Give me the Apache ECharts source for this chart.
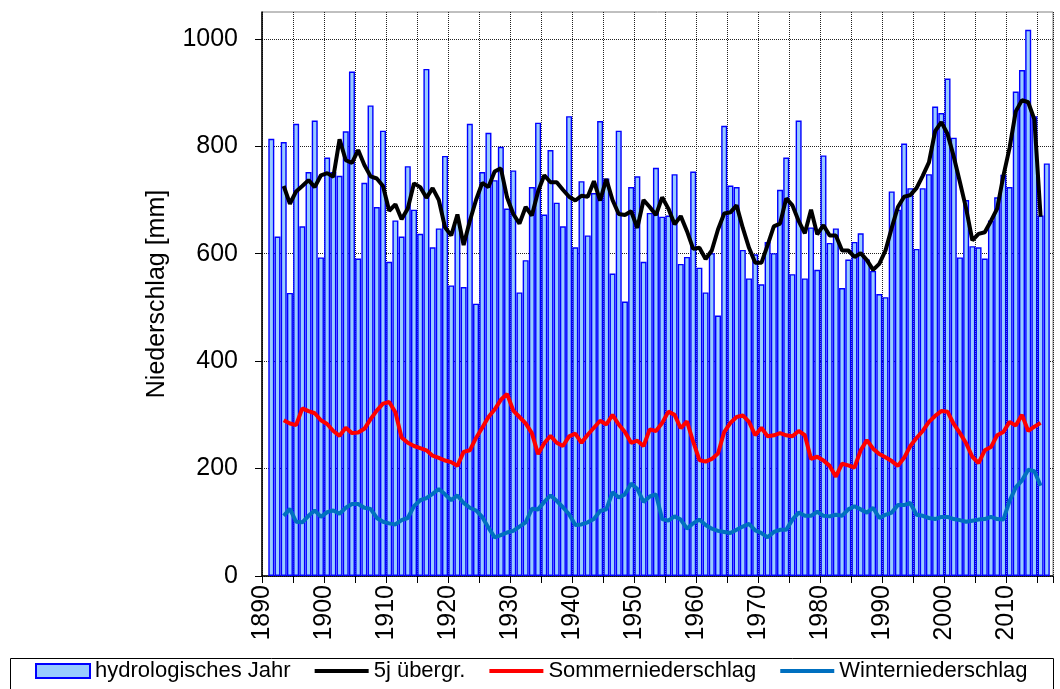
<!DOCTYPE html>
<html>
<head>
<meta charset="utf-8">
<title>Niederschlag</title>
<script src="https://cdn.jsdelivr.net/npm/echarts@6/dist/echarts.min.js"></script>
<style>
  html, body { margin: 0; padding: 0; background: #fff; }
  #chart { width: 1060px; height: 689px; }
</style>
</head>
<body>
<div id="chart"></div>
<script>
// hydrologisches Jahr, ab 1891
const jahrBeginn = 1891
const hydroJahr = [
  814, 632, 808, 527, 842, 651, 752, 848, 593, 779,
  752, 745, 828, 939, 591, 732, 876, 687, 829, 585,
  662, 632, 763, 682, 637, 944, 612, 647, 782, 541,
  660, 538, 842, 507, 752, 825, 737, 799, 684, 755,
  528, 588, 724, 844, 673, 793, 695, 651, 856, 612,
  735, 634, 713, 847, 740, 563, 829, 511, 724, 744,
  585, 676, 760, 669, 671, 748, 581, 594, 753, 574,
  528, 601, 485, 838, 727, 724, 607, 554, 599, 543,
  622, 601, 719, 779, 562, 848, 554, 649, 570, 783,
  620, 647, 536, 589, 622, 638, 589, 568, 525, 519,
  716, 682, 805, 722, 609, 722, 748, 874, 862, 926,
  816, 593, 700, 614, 612, 591, 662, 705, 747, 724,
  902, 942, 1017, 856, 671, 768
]

// Linien, ab 1893 bis 2015
const linienBeginn = 1893
const uebergr5j = [
  726, 693, 716, 726, 737, 724, 746, 750, 743, 813,
  774, 769, 793, 765, 744, 740, 726, 680, 692, 664,
  684, 731, 724, 704, 722, 700, 649, 634, 673, 616,
  661, 700, 732, 724, 753, 759, 705, 674, 656, 687,
  671, 716, 746, 733, 733, 719, 706, 699, 708, 706,
  735, 699, 739, 700, 674, 672, 679, 648, 700, 687,
  672, 705, 684, 655, 670, 642, 609, 611, 590, 606,
  645, 675, 677, 690, 648, 611, 583, 583, 616, 651,
  656, 703, 690, 661, 638, 682, 636, 653, 634, 634,
  606, 606, 594, 601, 588, 570, 581, 606, 648, 687,
  706, 709, 722, 745, 770, 828, 845, 823, 781, 733,
  684, 625, 637, 640, 661, 684, 745, 797, 865, 886,
  882, 850, 669
]
const sommer = [
  290, 284, 281, 312, 307, 303, 290, 283, 270, 261,
  276, 266, 267, 274, 292, 308, 321, 324, 305, 258,
  248, 242, 238, 234, 224, 220, 215, 212, 205, 231,
  234, 257, 276, 296, 310, 328, 339, 308, 296, 284,
  266, 227, 247, 261, 248, 242, 260, 265, 248, 263,
  276, 289, 282, 300, 282, 268, 248, 252, 242, 273,
  270, 285, 306, 300, 275, 288, 250, 216, 213, 218,
  228, 268, 285, 296, 299, 287, 262, 276, 260, 262,
  266, 262, 260, 270, 262, 218, 222, 215, 205, 185,
  209, 206, 202, 234, 253, 237, 227, 221, 214, 205,
  220, 242, 257, 270, 287, 298, 307, 306, 283, 266,
  247, 222, 210, 234, 240, 262, 268, 287, 280, 300,
  270, 278, 285
]
const winter = [
  112, 125, 101, 100, 112, 122, 110, 119, 122, 116,
  127, 134, 134, 127, 125, 108, 101, 98, 96, 104,
  108, 130, 141, 145, 153, 162, 152, 141, 150, 136,
  127, 122, 110, 90, 72, 76, 81, 84, 92, 100,
  125, 124, 138, 150, 140, 128, 115, 95, 96, 100,
  106, 121, 124, 156, 146, 152, 172, 162, 138, 148,
  152, 106, 103, 111, 105, 88, 98, 105, 95, 88,
  84, 82, 80, 86, 92, 97, 85, 80, 72, 82,
  86, 86, 105, 118, 112, 112, 120, 112, 111, 114,
  112, 124, 130, 124, 118, 127, 108, 114, 118, 132,
  132, 136, 114, 112, 108, 106, 110, 110, 106, 104,
  101, 103, 105, 106, 110, 106, 105, 140, 165, 178,
  198, 195, 168
]
const yTicks = [0, 200, 400, 600, 800, 1000]

const font = "'Liberation Sans', Arial, sans-serif"
// Balken/Punkte in der Mitte des Jahres
const toPoints = (start, arr) => arr.map((v, i) => [start + i + 0.5, v])

const chart = echarts.init(document.getElementById('chart'))
chart.setOption({
  animation: false,
  textStyle: { fontFamily: font },
  grid: {
    left: 262,
    right: 7,
    top: 12,
    bottom: 113,
    show: true,
    borderColor: '#808080',
    borderWidth: 1
  },
  legend: {
    left: 35,
    top: 660,
    padding: 0,
    itemWidth: 54,
    itemHeight: 14,
    itemGap: 22,
    lineStyle: { width: 4 },
    textStyle: { fontSize: 22, color: '#000', fontFamily: font },
    data: [
      { name: 'hydrologisches Jahr', icon: 'rect' },
      { name: '5j übergr.', itemStyle: { opacity: 0 } },
      { name: 'Sommerniederschlag', itemStyle: { opacity: 0 } },
      { name: 'Winterniederschlag', itemStyle: { opacity: 0 } }
    ]
  },
  graphic: [{
    type: 'rect',
    left: 8,
    top: 656,
    shape: { width: 1043, height: 32 },
    style: { fill: 'none', stroke: '#000', lineWidth: 1 }
  }],
  xAxis: {
    type: 'value',
    min: 1890,
    max: 2017.5,
    interval: 5,
    axisLine: { lineStyle: { color: '#000', width: 1.5 } },
    axisTick: { length: 7, lineStyle: { color: '#000', width: 1 } },
    axisLabel: {
      rotate: 90,
      margin: 9,
      fontSize: 25,
      color: '#000',
      fontFamily: font,
      formatter: v => (v % 10 === 0 ? String(v) : '')
    },
    splitLine: { show: true, lineStyle: { color: '#222', type: 'dotted', width: 1 } }
  },
  yAxis: {
    type: 'value',
    min: 0,
    max: 1050,
    interval: 200,
    name: 'Niederschlag [mm]',
    nameLocation: 'middle',
    nameRotate: 90,
    nameGap: 92,
    nameTextStyle: { fontSize: 25, color: '#000', fontFamily: font },
    axisLine: { show: true, lineStyle: { color: '#000', width: 1.5 } },
    axisTick: { show: true, length: 7, customValues: yTicks, lineStyle: { color: '#000' } },
    axisLabel: {
      margin: 24,
      fontSize: 25,
      color: '#000',
      fontFamily: font,
      customValues: yTicks,
      formatter: v => String(v)
    },
    splitLine: { show: true, lineStyle: { color: '#222', type: 'dotted', width: 1 } }
  },
  series: [
    {
      name: 'hydrologisches Jahr',
      type: 'bar',
      barWidth: 6,
      itemStyle: { color: '#99ccff', borderColor: '#0000ff', borderWidth: 1.4 },
      data: toPoints(jahrBeginn, hydroJahr)
    },
    {
      name: '5j übergr.',
      type: 'line',
      symbol: 'none',
      lineStyle: { color: '#000', width: 4 },
      itemStyle: { color: '#000' },
      data: toPoints(linienBeginn, uebergr5j)
    },
    {
      name: 'Sommerniederschlag',
      type: 'line',
      symbol: 'none',
      lineStyle: { color: '#ff0000', width: 4 },
      itemStyle: { color: '#ff0000' },
      data: toPoints(linienBeginn, sommer)
    },
    {
      name: 'Winterniederschlag',
      type: 'line',
      symbol: 'none',
      lineStyle: { color: '#0070c0', width: 4 },
      itemStyle: { color: '#0070c0' },
      data: toPoints(linienBeginn, winter)
    }
  ]
})
</script>
</body>
</html>
